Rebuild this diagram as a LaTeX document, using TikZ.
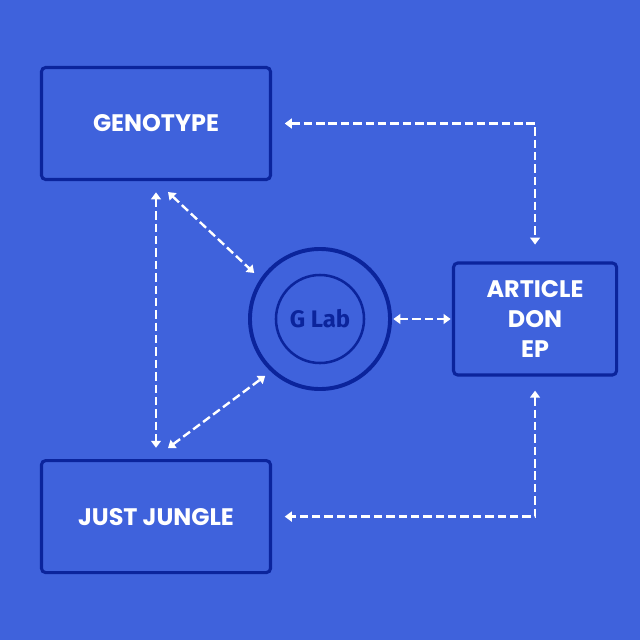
\documentclass[tikz,border=0pt]{standalone}
\usepackage{fontspec}
\setmainfont{Poppins}
\newfontfamily\labfont{Fira Sans}
\usetikzlibrary{arrows.meta}
\definecolor{achter}{HTML}{3F62DC}
\definecolor{rand}{HTML}{0B249C}

\begin{document}
\begin{tikzpicture}[x=0.025cm, y=-0.025cm,
	>={Triangle[length=5pt, width=7pt]},
	every node/.style={align=center, text=white, font=\fontsize{17}{21.3}\selectfont\bfseries},
	blok/.style={draw=rand, line width=2.2pt, rounded corners=3pt, minimum width=5.725cm, minimum height=2.8cm},
	link/.style={<->, white, line width=1.7pt, dash pattern=on 6pt off 2.8pt}
	]

	\fill[achter] (0,0) rectangle (640,640);

	% Blokken links
	\node[blok] (geno) at (156,123.5) {GENOTYPE};
	\node[blok] (jungle) [below of=geno, node distance=9.825cm] {JUST JUNGLE};

	% Middelpunt: G Lab
	\node[circle, draw=rand, line width=2.8pt, minimum size=3.5cm] (lab) at (320,319) {};
	\node[circle, draw=rand, line width=1.8pt, minimum size=2.2cm, text=rand, font=\labfont\bfseries\fontsize{17}{20}\selectfont] (labin) at (lab) {G Lab};

	% Blok rechts
	\node[blok, minimum width=4.075cm] (art) [right of=lab, node distance=5.375cm] {ARTICLE\\DON\\EP};

	% Verbindingen links
	\draw[link, shorten <=8pt, shorten >=8pt] (geno.south) -- (jungle.north);
	\draw[link, shorten >=6pt] ([xshift=0.3cm, yshift=-0.275cm]geno.south) -- (lab.146);
	\draw[link, shorten >=5pt] ([xshift=0.3cm, yshift=0.275cm]jungle.north) -- (lab.227);

	% Verbindingen rechts
	\draw[link, shorten <=1pt, shorten >=1pt] (lab.east) -- (art.west);
	\draw[link, shorten <=9pt, shorten >=12pt] (geno.east) -| (art.north);
	\draw[link, shorten <=10pt, shorten >=9pt] (art.south) |- (jungle.east);

\end{tikzpicture}
\end{document}
